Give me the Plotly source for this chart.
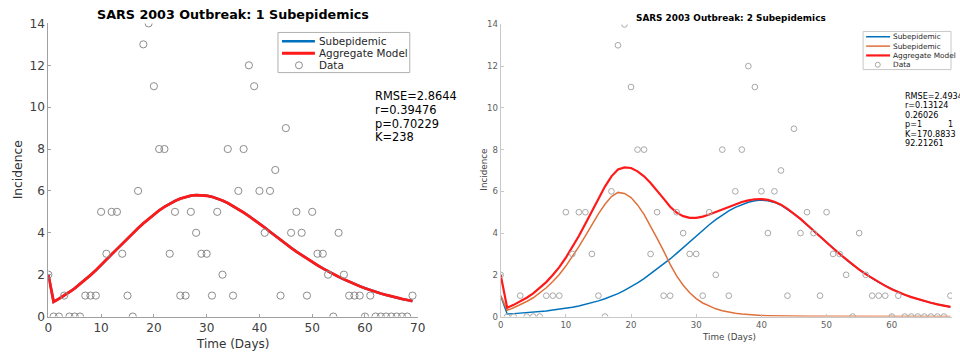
import plotly.graph_objects as go

days = list(range(70))
incidence = [2, 0, 0, 1, 0, 0, 0, 1, 1, 1,
             5, 3, 5, 5, 3, 1, 0, 6, 13, 14,
             11, 8, 8, 3, 5, 1, 1, 5, 4, 3,
             3, 1, 5, 2, 8, 1, 6, 8, 12, 11,
             6, 4, 6, 7, 1, 9, 4, 5, 4, 1,
             5, 3, 3, 2, 0, 4, 2, 1, 1, 1,
             0, 1, 0, 0, 0, 0, 0, 0, 0, 1]

# 1-subepidemic fit
agg1 = [2.00, 0.70, 0.85, 1.00, 1.17, 1.35, 1.55, 1.76, 1.98, 2.21,
        2.45, 2.72, 2.97, 3.22, 3.48, 3.73, 3.98, 4.22, 4.45, 4.67,
        4.88, 5.07, 5.24, 5.39, 5.52, 5.63, 5.71, 5.77, 5.80, 5.80,
        5.77, 5.72, 5.64, 5.54, 5.42, 5.28, 5.13, 4.97, 4.80, 4.63,
        4.45, 4.25, 4.05, 3.85, 3.66, 3.47, 3.28, 3.10, 2.93, 2.76,
        2.60, 2.45, 2.30, 2.16, 2.03, 1.90, 1.78, 1.66, 1.55, 1.45,
        1.35, 1.26, 1.18, 1.10, 1.03, 0.96, 0.90, 0.84, 0.79, 0.74]
sub1 = agg1

# 2-subepidemic fit
sub2a = [1.00, 0.12, 0.14, 0.16, 0.18, 0.21, 0.24, 0.27, 0.31, 0.35,
         0.40, 0.45, 0.51, 0.58, 0.66, 0.75, 0.85, 0.97, 1.10, 1.25,
         1.42, 1.61, 1.82, 2.05, 2.30, 2.50, 2.76, 3.03, 3.31, 3.59,
         3.87, 4.14, 4.40, 4.64, 4.86, 5.06, 5.23, 5.37, 5.48, 5.55,
         5.58, 5.55, 5.47, 5.34, 5.14, 4.92, 4.67, 4.39, 4.10, 3.82,
         3.54, 3.26, 2.99, 2.73, 2.48, 2.25, 2.03, 1.83, 1.64, 1.47,
         1.31, 1.17, 1.04, 0.93, 0.83, 0.74, 0.66, 0.58, 0.52, 0.46]
sub2b = [1.00, 0.30, 0.42, 0.56, 0.72, 0.90, 1.12, 1.38, 1.68, 2.02,
         2.42, 2.86, 3.35, 3.87, 4.40, 4.92, 5.38, 5.75, 5.95, 5.90,
         5.70, 5.35, 4.90, 4.35, 3.75, 3.15, 2.50, 1.95, 1.50, 1.14,
         0.86, 0.65, 0.49, 0.37, 0.28, 0.21, 0.16, 0.12, 0.09, 0.07,
         0.05, 0.04, 0.03, 0.02, 0.015, 0.01, 0.01, 0.01, 0.01, 0.01,
         0.01, 0.005, 0.005, 0.005, 0.005, 0.0, 0.0, 0.0, 0.0, 0.0,
         0.0, 0.0, 0.0, 0.0, 0.0, 0.0, 0.0, 0.0, 0.0, 0.0]
agg2 = [2.00, 0.42, 0.56, 0.72, 0.90, 1.11, 1.36, 1.65, 1.99, 2.37,
        2.82, 3.31, 3.86, 4.45, 5.06, 5.67, 6.23, 6.72, 7.05, 7.15,
        7.12, 6.96, 6.72, 6.40, 6.05, 5.65, 5.26, 4.98, 4.81, 4.73,
        4.73, 4.79, 4.89, 5.01, 5.14, 5.27, 5.39, 5.49, 5.57, 5.62,
        5.63, 5.59, 5.50, 5.36, 5.16, 4.93, 4.68, 4.40, 4.11, 3.83,
        3.55, 3.27, 3.00, 2.74, 2.49, 2.25, 2.03, 1.83, 1.64, 1.47,
        1.31, 1.17, 1.04, 0.93, 0.83, 0.74, 0.66, 0.58, 0.52, 0.46]

stats1 = ["RMSE=2.8644", "r=0.39476", "p=0.70229", "K=238"]
stats2 = ["RMSE=2.4934", "r=0.13124", "0.26026", "p=1", "K=170.8833", "92.21261"]
stats2_p2 = "1"

legend1_labels = ["Subepidemic", "Aggregate Model", "Data"]
legend2_labels = ["Subepidemic", "Subepidemic", "Aggregate Model", "Data"]

x_ticks = [0, 10, 20, 30, 40, 50, 60, 70]
y_ticks = [0, 2, 4, 6, 8, 10, 12, 14]

BLUE = "#0072BD"
ORANGE = "#E0703A"
RED = "#FF1A1A"
GRAY = "#8C8C8C"
FONT = "DejaVu Sans"

W, H = 960, 352
# the captured picture is slightly scaled/offset relative to the page;
# convert wanted picture pixels into page pixels
SX, BX = 0.989, 2.6
SY, PAD = 352 / 368, 8


def gx(t):
    return (t - BX) / SX


def gy(t):
    return t / SY - PAD


def px_x(t):
    return min(gx(t) / W, 1.0)


def px_y(t):
    return 1 - gy(t) / H


FS = 1.01  # font compensation


fig = go.Figure()

# left panel
fig.add_trace(go.Scatter(x=days, y=sub1, mode="lines", name=legend1_labels[0],
                         line=dict(color=BLUE, width=2.5), xaxis="x", yaxis="y"))
fig.add_trace(go.Scatter(x=days, y=agg1, mode="lines", name=legend1_labels[1],
                         line=dict(color=RED, width=2.8), xaxis="x", yaxis="y"))
fig.add_trace(go.Scatter(x=days, y=incidence, mode="markers", name=legend1_labels[2],
                         marker=dict(symbol="circle-open", size=7.2, color=GRAY, line=dict(width=1)),
                         xaxis="x", yaxis="y"))

# right panel
fig.add_trace(go.Scatter(x=days, y=sub2a, mode="lines", name=legend2_labels[0],
                         line=dict(color=BLUE, width=1.5), xaxis="x2", yaxis="y2"))
fig.add_trace(go.Scatter(x=days, y=sub2b, mode="lines", name=legend2_labels[1],
                         line=dict(color=ORANGE, width=1.5), xaxis="x2", yaxis="y2"))
fig.add_trace(go.Scatter(x=days, y=agg2, mode="lines", name=legend2_labels[2],
                         line=dict(color=RED, width=2.2), xaxis="x2", yaxis="y2"))
fig.add_trace(go.Scatter(x=days, y=incidence, mode="markers", name=legend2_labels[3],
                         marker=dict(symbol="circle-open", size=5.7, color="#A8A8A8", line=dict(width=1)),
                         xaxis="x2", yaxis="y2"))


def axis_common(size, domain, linecol, txtcol):
    return dict(domain=domain, showgrid=False, zeroline=False, showline=True,
                linecolor=linecol, linewidth=1, ticks="inside", ticklen=3, tickcolor=linecol,
                tickfont=dict(family=FONT, size=size, color=txtcol), mirror=False)


# right x axis: the picture ends before day 70 reaches the page edge
r_x0, r_x70 = gx(500), gx(957)
r_xmax = 70 * (min(r_x70, W) - r_x0) / (r_x70 - r_x0)

fig.update_layout(
    width=W, height=H, margin=dict(l=0, r=0, t=0, b=0),
    paper_bgcolor="white", plot_bgcolor="white", showlegend=False,
    xaxis=dict(**axis_common(12 * FS, [px_x(47), px_x(417)], "#A0A0A0", "#404040"),
               range=[0, 70], tickvals=x_ticks, anchor="y"),
    yaxis=dict(**axis_common(12 * FS, [px_y(316), px_y(24)], "#A0A0A0", "#404040"),
               range=[0, 14], tickvals=y_ticks, anchor="x"),
    xaxis2=dict(**axis_common(8.5 * FS, [px_x(500), px_x(957)], "#C8C8C8", "#606060"),
                range=[0, r_xmax], tickvals=x_ticks, anchor="y2"),
    yaxis2=dict(**axis_common(8.5 * FS, [px_y(316), px_y(25)], "#C8C8C8", "#606060"),
                range=[0, 14], tickvals=y_ticks, anchor="x2"),
)

shapes = []
annotations = []


def ann(text, x, y, size, color="#262626", xanchor="center", yanchor="middle", angle=0):
    annotations.append(dict(text=text, x=gx(x) / W, y=px_y(y), xref="paper", yref="paper",
                            showarrow=False, xanchor=xanchor, yanchor=yanchor, textangle=angle,
                            font=dict(family=FONT, size=size * FS, color=color)))


def legend_box(x0, y0, x1, y1, rows, labels, styles, lx0, lx1, tx, size, cx, r, border):
    shapes.append(dict(type="rect", xref="paper", yref="paper",
                       x0=px_x(x0), x1=min(px_x(x1), 959 / W), y0=px_y(y1), y1=px_y(y0),
                       line=dict(color=border, width=1), fillcolor="white", layer="above"))
    for yy, lab, st in zip(rows, labels, styles):
        if st[0] == "line":
            shapes.append(dict(type="line", xref="paper", yref="paper",
                               x0=px_x(lx0), x1=px_x(lx1), y0=px_y(yy), y1=px_y(yy),
                               line=dict(color=st[1], width=st[2]), layer="above"))
        else:
            shapes.append(dict(type="circle", xref="paper", yref="paper",
                               x0=px_x(cx - r), x1=px_x(cx + r), y0=px_y(yy + r), y1=px_y(yy - r),
                               line=dict(color=st[1], width=1), layer="above"))
        ann(lab, tx, yy, size, xanchor="left")


legend_box(277, 33, 409, 73, [41.7, 53.7, 65.7], legend1_labels,
           [("line", BLUE, 2.5), ("line", RED, 2.8), ("circle", GRAY)],
           281, 314, 316, 10.3, 298, 3.5, "#B0B0B0")
legend_box(863, 32, 957, 70, [37.3, 46.6, 55.9, 65.2], legend2_labels,
           [("line", BLUE, 1.5), ("line", ORANGE, 1.5), ("line", RED, 2.2), ("circle", "#A8A8A8")],
           866, 890, 891, 7.3, 877.7, 2.5, "#C8C8C8")

# titles and axis labels
ann("<b>SARS 2003 Outbreak: 1 Subepidemics</b>", 232, 15, 12.6, "#000")
ann("<b>SARS 2003 Outbreak: 2 Subepidemics</b>", 731, 19, 8.8, "#000")
ann("Time (Days)", 232, 343, 11.9, "#333")
ann("Time (Days)", 729, 336, 8.7, "#444")
ann("Incidence", 17, 170, 12.2, "#333", angle=-90)
ann("Incidence", 483, 170, 8.7, "#444", angle=-90)

# fit statistics
for i, t in enumerate(stats1):
    ann(t, 372, 96.7 + i * 13.6, 11.3, "#000", xanchor="left")
for i, t in enumerate(stats2):
    ann(t, 903, 96 + i * 9.5, 8, "#000", xanchor="left")
ann(stats2_p2, 951, 96 + 3 * 9.5, 8, "#000")

fig.update_layout(shapes=shapes, annotations=annotations)

fig.write_html("out.html", config={"displayModeBar": False},
               post_script="document.body.style.margin='0';document.body.style.overflow='hidden';")
